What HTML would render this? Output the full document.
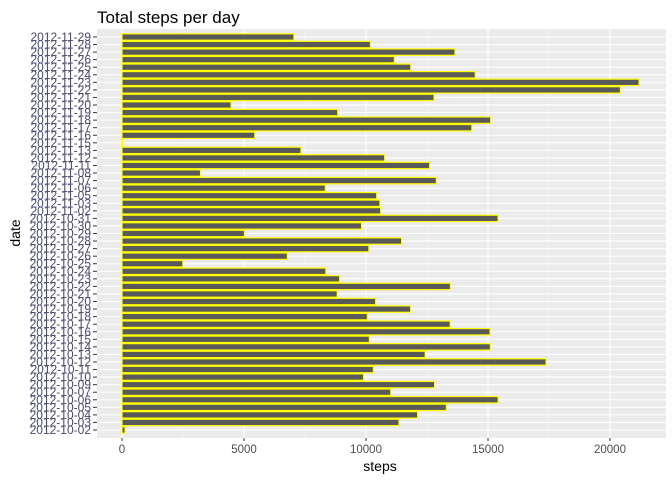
<!DOCTYPE html>
<html><head><meta charset="utf-8"><style>
body{margin:0;background:#fff;font-family:"Liberation Sans",Arial,sans-serif}
</style></head><body>
<svg id="c" width="672" height="480" xmlns="http://www.w3.org/2000/svg">
<text x="97" y="23" font-size="17" fill="#000">Total steps per day</text>
<rect x="97" y="29" width="569" height="409" fill="#ebebeb"/>
<g id="grid"></g><g id="bars"></g><g id="yax"></g><g id="xax"></g>
<text x="380" y="471" font-size="14" text-anchor="middle" fill="#000">steps</text>
<text transform="translate(20,233) rotate(-90)" font-size="14" text-anchor="middle" fill="#000">date</text>
</svg>
<script>
const dates=["2012-10-02","2012-10-03","2012-10-04","2012-10-05","2012-10-06","2012-10-07","2012-10-09","2012-10-10","2012-10-11","2012-10-12","2012-10-13","2012-10-14","2012-10-15","2012-10-16","2012-10-17","2012-10-18","2012-10-19","2012-10-20","2012-10-21","2012-10-22","2012-10-23","2012-10-24","2012-10-25","2012-10-26","2012-10-27","2012-10-28","2012-10-29","2012-10-30","2012-10-31","2012-11-02","2012-11-03","2012-11-05","2012-11-06","2012-11-07","2012-11-08","2012-11-11","2012-11-12","2012-11-13","2012-11-15","2012-11-16","2012-11-17","2012-11-18","2012-11-19","2012-11-20","2012-11-21","2012-11-22","2012-11-23","2012-11-24","2012-11-25","2012-11-26","2012-11-27","2012-11-28","2012-11-29"];
const steps=[126,11352,12116,13294,15420,11015,12811,9900,10304,17382,12426,15098,10139,15084,13452,10056,11829,10395,8821,13460,8918,8355,2492,6778,10119,11458,5018,9819,15414,10600,10571,10439,8334,12883,3219,12608,10765,7336,41,5441,14339,15110,8841,4472,12787,20427,21194,14478,11834,11162,13646,10183,7047];
const xTicks=[0,5000,10000,15000,20000];
const NS="http://www.w3.org/2000/svg";
const xs=v=>122+v*0.0244;
const nCat=dates.length, yTop=37, yBot=430, yStep=(yBot-yTop)/(nCat-1);
const ys=i=>yBot-i*yStep;
function mk(t,a,p){const e=document.createElementNS(NS,t);for(const k in a)e.setAttribute(k,a[k]);document.getElementById(p).appendChild(e);return e;}
const minors=[];
for(let k=0;k<xTicks.length-1;k++)minors.push((xTicks[k]+xTicks[k+1])/2);
minors.push(xTicks[xTicks.length-1]+2500);
minors.forEach(m=>{const l=mk('line',{x1:xs(m),x2:xs(m),y1:29,y2:438,stroke:'#f5f5f5','stroke-width':0.6},'grid');

});
xTicks.forEach(t=>{const l=mk('line',{x1:xs(t),x2:xs(t),y1:29,y2:438,stroke:'#fff','stroke-width':1.1},'grid');


mk('line',{x1:xs(t),x2:xs(t),y1:438,y2:441,stroke:'#333'},'xax');
const tx=mk('text',{x:xs(t),y:453,'font-size':11.5,'text-anchor':'middle',fill:'#4d4d4d'},'xax');tx.textContent=t;

});
dates.forEach((d,i)=>{mk('line',{x1:97,x2:666,y1:ys(i),y2:ys(i),stroke:'#fff','stroke-width':1.1},'grid');
const b=mk('rect',{x:xs(0),y:ys(i)-3.2,width:Math.max(0,xs(steps[i])-xs(0)),height:6.4,fill:'#595959',stroke:'#ffff00','stroke-width':1.2},'bars');


mk('line',{x1:93,x2:97,y1:ys(i),y2:ys(i),stroke:'#333'},'yax');
const tl=mk('text',{x:91,y:ys(i)+4,'font-size':12,'text-anchor':'end',fill:'#4a4a6e'},'yax');tl.textContent=d;

});
</script>
</body></html>
